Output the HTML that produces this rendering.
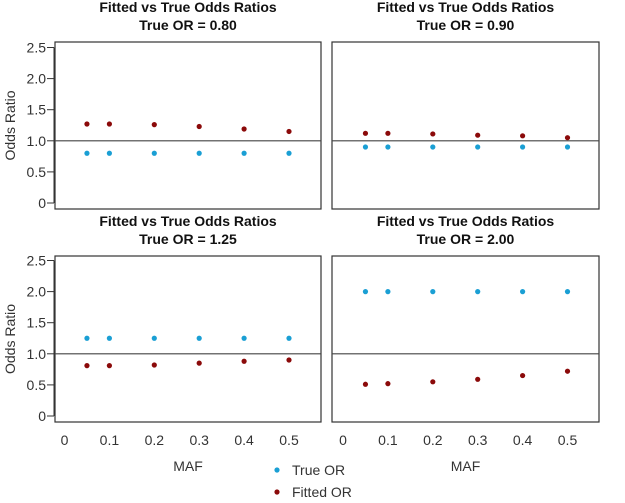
<!DOCTYPE html>
<html><head><meta charset="utf-8"><style>
body{margin:0;background:#fff;}
svg text{font-family:"Liberation Sans",Arial,sans-serif;}
</style></head><body>
<svg id="chart" width="625" height="498" xmlns="http://www.w3.org/2000/svg"></svg>
<script>
const mafValues=[0.05,0.1,0.2,0.3,0.4,0.5];
const panelTitles=["True OR = 0.80","True OR = 0.90","True OR = 1.25","True OR = 2.00"];
const trueOR1=[0.8,0.8,0.8,0.8,0.8,0.8];
const fittedOR1=[1.27,1.27,1.26,1.23,1.19,1.15];
const trueOR2=[0.9,0.9,0.9,0.9,0.9,0.9];
const fittedOR2=[1.12,1.12,1.11,1.09,1.08,1.05];
const trueOR3=[1.25,1.25,1.25,1.25,1.25,1.25];
const fittedOR3=[0.81,0.81,0.82,0.85,0.88,0.90];
const trueOR4=[2.0,2.0,2.0,2.0,2.0,2.0];
const fittedOR4=[0.51,0.52,0.55,0.59,0.65,0.72];
const yTicks=[0,0.5,1.0,1.5,2.0,2.5];
const yTickLabels=["0","0.5","1.0","1.5","2.0","2.5"];
const xTicks=[0,0.1,0.2,0.3,0.4,0.5];
const xTickLabels=["0","0.1","0.2","0.3","0.4","0.5"];

const NS="http://www.w3.org/2000/svg";
const svg=document.getElementById('chart');
function mk(tag,attrs,parent){const e=document.createElementNS(NS,tag);for(const k in attrs)e.setAttribute(k,attrs[k]);(parent||svg).appendChild(e);return e;}
const panels=[
 {x0:55,x1:321,y0:42,y1:209,zeroY:203,ax:64.5,tr:trueOR1,fi:fittedOR1,left:true,bottom:false},
 {x0:332,x1:599,y0:42,y1:209,zeroY:203,ax:343,tr:trueOR2,fi:fittedOR2,left:false,bottom:false},
 {x0:55,x1:321,y0:256,y1:422,zeroY:416,ax:64.5,tr:trueOR3,fi:fittedOR3,left:true,bottom:true},
 {x0:332,x1:599,y0:256,y1:422,zeroY:416,ax:343,tr:trueOR4,fi:fittedOR4,left:false,bottom:true}
];
panels.forEach((p,i)=>{
 const g=mk('g',{});
 
 
 const xs=v=>p.ax+v*449;
 const ys=v=>p.zeroY-v*62.2;
 const box=mk('rect',{x:p.x0,y:p.y0,width:p.x1-p.x0,height:p.y1-p.y0,fill:'none',stroke:'#333','stroke-width':1.2},g);
 
 
 const cx=(p.x0+p.x1)/2;
 const t1=mk('text',{x:cx,y:p.y0-30,'text-anchor':'middle','font-size':14,'font-weight':'bold',fill:'#111'},g);
 t1.textContent='Fitted vs True Odds Ratios';
 
 
 const t2=mk('text',{x:cx,y:p.y0-12,'text-anchor':'middle','font-size':14,'font-weight':'bold',fill:'#111'},g);
 t2.textContent=panelTitles[i];
 
 
 const ref=mk('line',{x1:p.x0,x2:p.x1,y1:ys(1),y2:ys(1),stroke:'#444','stroke-width':1.2},g);
 
 
 if(p.left){
  mk('line',{x1:p.x0-1,x2:p.x0-1,y1:ys(2.5),y2:ys(0),stroke:'#333'},g);
  yTicks.forEach((v,k)=>{
   mk('line',{x1:p.x0-8,x2:p.x0-1,y1:ys(v),y2:ys(v),stroke:'#333'},g);
   const tl=mk('text',{x:p.x0-9,y:ys(v)+5,'text-anchor':'end','font-size':14,fill:'#333'},g);
   tl.textContent=yTickLabels[k];
   
   
  });
  const yl=mk('text',{x:0,y:0,'text-anchor':'middle','font-size':14,fill:'#333',transform:`translate(15,${(p.y0+p.y1)/2}) rotate(-90)`},g);
  yl.textContent='Odds Ratio';
  
  
 }
 if(p.bottom){
  xTicks.forEach((v,k)=>{
   const tl=mk('text',{x:xs(v),y:445,'text-anchor':'middle','font-size':14,fill:'#333'},g);
   tl.textContent=xTickLabels[k];
   
   
  });
  const xl=mk('text',{x:cx,y:471,'text-anchor':'middle','font-size':14,fill:'#333'},g);
  xl.textContent='MAF';
  
  
 }
 mafValues.forEach((m,k)=>{
  const a=mk('circle',{cx:xs(m),cy:ys(p.tr[k]),r:2.6,fill:'#1a9fd4'},g);
  
  
  const b=mk('circle',{cx:xs(m),cy:ys(p.fi[k]),r:2.6,fill:'#8b0a0a'},g);
  
  
 });
});
const lg=mk('g',{});


[['True OR','#1a9fd4',470],['Fitted OR','#8b0a0a',492]].forEach(([lab,col,y])=>{
 const c=mk('circle',{cx:277,cy:y,r:2.6,fill:col},lg);
 
 
 const t=mk('text',{x:292,y:y+5,'font-size':14,fill:'#333'},lg);
 t.textContent=lab;
 
 
});
</script>
</body></html>
